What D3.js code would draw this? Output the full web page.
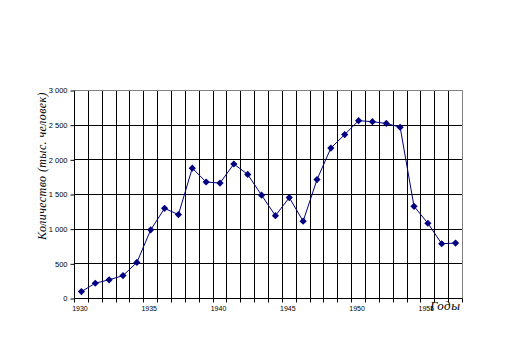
<!DOCTYPE html>
<html><head><meta charset="utf-8">
<script src="https://cdn.jsdelivr.net/npm/d3@7/dist/d3.min.js"></script>
<style>body{margin:0;background:#fff}svg{display:block}</style>
</head><body>
<script>
const years = d3.range(1930, 1958);
const values = [100,220,270,330,520,990,1300,1210,1880,1680,1665,1940,1790,1490,1195,1455,1115,1715,2170,2365,2565,2550,2525,2470,1330,1085,790,800];
const xTickLabels = [1930,1935,1940,1945,1950,1955];
const yTicks = [0,500,1000,1500,2000,2500,3000];
const yTitle = "Количество (тыс. человек)";
const xTitle = "Годы";

(function () {
const W = 505, H = 345;
const svg = d3.select("body").append("svg").attr("width", W).attr("height", H);
const pL = 74.5, pR = 462.5, pT = 90.5, pB = 298.5;
const x = d3.scaleBand().domain(years).range([pL, pR]).padding(0);
const y = d3.scaleLinear().domain([0, 3000]).range([pB, pT]);
const bw = x.bandwidth();
const snap = v => Math.round(v - 0.5) + 0.5;

// vertical gridlines at category boundaries (with ticks below axis)
const bounds = years.map(yr => x(yr));
svg.append("g").selectAll("line").data(bounds).join("line")
  .attr("x1", d => snap(d)).attr("x2", d => snap(d))
  .attr("y1", pT).attr("y2", pB + 4)
  .attr("stroke", "#000").attr("stroke-width", 1);

// horizontal gridlines (top one is the grey plot border)
svg.append("g").selectAll("line").data(yTicks).join("line")
  .attr("x1", pL).attr("x2", d => d === 3000 ? pR : pR)
  .attr("y1", d => snap(y(d))).attr("y2", d => snap(y(d)))
  .attr("stroke", d => d === 3000 ? "#808080" : "#000").attr("stroke-width", 1);
// right border
svg.append("line").attr("x1", snap(pR)).attr("x2", snap(pR))
  .attr("y1", pT).attr("y2", pB).attr("stroke", "#808080");
svg.append("line").attr("x1", snap(pR)).attr("x2", snap(pR))
  .attr("y1", pB).attr("y2", pB + 4).attr("stroke", "#000");

// y axis
const loc = d3.formatLocale({decimal: ",", thousands: "\u00a0", grouping: [3], currency: ["", ""]});
const fmt = loc.format(",");
const yAxis = svg.append("g").attr("transform", `translate(${pL},0)`)
  .call(d3.axisLeft(y).tickValues(yTicks).tickSize(4).tickPadding(3).tickFormat(fmt));
yAxis.select(".domain").remove();
yAxis.selectAll("line").attr("stroke", "#000");
yAxis.selectAll("text").attr("font-family", "Liberation Sans, Arial, sans-serif").attr("font-size", 7.5).attr("fill", "#000");

// x axis labels
const xAxis = svg.append("g").attr("transform", `translate(-1.5,${pB})`)
  .call(d3.axisBottom(x).tickValues(xTickLabels).tickSize(0).tickPadding(8));
xAxis.select(".domain").remove();
xAxis.selectAll("text").attr("font-family", "Liberation Sans, Arial, sans-serif").attr("font-size", 7).attr("fill", "#000");

// line
const cx = d => x(d) + bw / 2;
const line = d3.line().x((d, i) => cx(years[i])).y(d => y(d));
svg.append("path").datum(values).attr("d", line)
  .attr("fill", "none").attr("stroke", "#000080").attr("stroke-width", 1);

// diamond markers
svg.append("g").selectAll("path").data(values).join("path")
  .attr("transform", (d, i) => `translate(${cx(years[i])},${y(d)})`)
  .attr("d", "M0,-3.6L3.6,0L0,3.6L-3.6,0Z")
  .attr("fill", "#000080");

// titles
svg.append("text").attr("transform", "translate(46,166) rotate(-90)")
  .attr("text-anchor", "middle").attr("font-family", "Liberation Serif, Times New Roman, serif")
  .attr("font-style", "italic").attr("font-size", 12).attr("letter-spacing", 0.4).text(yTitle);
svg.append("text").attr("x", 430).attr("y", 310)
  .attr("font-family", "Liberation Serif, Times New Roman, serif")
  .attr("font-style", "italic").attr("font-size", 13).attr("letter-spacing", 0.5).text(xTitle);
})();
</script>
</body></html>
